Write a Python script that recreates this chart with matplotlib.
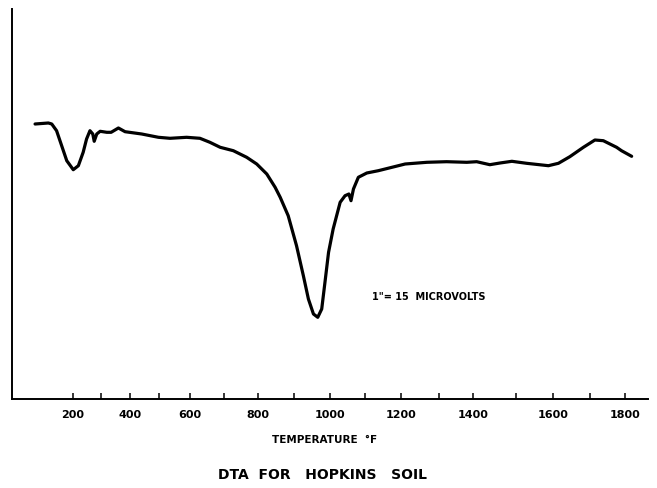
import numpy as np
import matplotlib
matplotlib.use("Agg")
import matplotlib.pyplot as plt
from matplotlib.ticker import FixedLocator, NullFormatter

# DTA trace, temperature (deg F) vs pen deflection (arbitrary chart units)
temp_f = [67, 114, 126, 143, 161, 179, 202, 220, 237, 249, 261, 271, 276, 285,
          297, 320, 335, 360, 383, 440, 497, 535, 589, 629, 658, 688, 727, 767,
          797, 825, 848, 862, 884, 907, 926, 940, 954, 966, 977, 986, 996, 1009,
          1029, 1043, 1054, 1060, 1067, 1081, 1105, 1137, 1211, 1268, 1322, 1381,
          1408, 1439, 1463, 1491, 1529, 1587, 1614, 1645, 1682, 1714, 1738, 1776,
          1790, 1819]
deflection = [275, 276, 275, 268.3, 253.3, 238.3, 229.3, 233.3, 246.7, 260, 268.3,
              265, 257.7, 265, 267.7, 266.7, 266.7, 271, 267.3, 265, 261.7, 260.7,
              261.7, 260.7, 256.7, 251.7, 248.3, 241.7, 235, 225, 211.7, 201.7,
              183.3, 153.3, 123.3, 100, 85, 81.7, 90, 116.7, 146.7, 170, 196.7,
              203.3, 205, 198.3, 210, 221.7, 226, 228.3, 235, 236.7, 237.3, 236.7,
              237.3, 234.3, 236, 237.7, 235.7, 233.3, 235.7, 242.3, 251.7, 259,
              258.3, 251.7, 248.3, 242.7]

tick_temps = [200, 300, 400, 500, 600, 700, 800, 900, 1000, 1100, 1200, 1300,
              1400, 1500, 1600, 1700, 1800]
label_temps = [200, 400, 600, 800, 1000, 1200, 1400, 1600, 1800]

# the temperature marks on the original chart are not evenly spaced,
# so map temperature to chart distance through the marked ticks
chart_pos = np.array([72.7, 101, 130, 159.3, 190, 224.3, 257.7, 294, 330, 365,
                      401, 439, 473.3, 515.7, 553.3, 590, 625])
tt = np.array(tick_temps, float)
slope_lo = (chart_pos[1] - chart_pos[0]) / (tt[1] - tt[0])
slope_hi = (chart_pos[-1] - chart_pos[-2]) / (tt[-1] - tt[-2])


def fwd(t):
    t = np.asarray(t, float)
    p = np.interp(t, tt, chart_pos)
    p = np.where(t < tt[0], chart_pos[0] + (t - tt[0]) * slope_lo, p)
    p = np.where(t > tt[-1], chart_pos[-1] + (t - tt[-1]) * slope_hi, p)
    return p


def inv(p):
    p = np.asarray(p, float)
    t = np.interp(p, chart_pos, tt)
    t = np.where(p < chart_pos[0], tt[0] + (p - chart_pos[0]) / slope_lo, t)
    t = np.where(p > chart_pos[-1], tt[-1] + (p - chart_pos[-1]) / slope_hi, t)
    return t


fig = plt.figure(figsize=(6.57, 4.89), dpi=100)
ax = fig.add_axes([12 / 657, 89 / 489, 636 / 657, 390 / 489])
ax.set_xscale("function", functions=(fwd, inv))
ax.set_xlim(inv(12.0), inv(648.0))
ax.set_ylim(0, 390)

ax.plot(temp_f, deflection, color="black", lw=2.3, solid_joinstyle="round",
        solid_capstyle="round")

for s in ["top", "right"]:
    ax.spines[s].set_visible(False)
ax.spines["left"].set_linewidth(1.4)
ax.spines["bottom"].set_linewidth(1.4)
ax.set_yticks([])

ax.xaxis.set_major_locator(FixedLocator(label_temps))
ax.xaxis.set_minor_locator(FixedLocator([t for t in tick_temps if t not in label_temps]))
ax.xaxis.set_minor_formatter(NullFormatter())
ax.set_xticklabels([str(t) for t in label_temps], fontweight="bold")
ax.tick_params(axis="x", which="both", direction="in", length=4, width=1.1,
               pad=7, labelsize=8)

ax.text(0.566, 0.264, '1"= 15  MICROVOLTS', transform=ax.transAxes,
        fontsize=7, fontweight="bold", va="center", ha="left")

fig.text(325 / 657, 1 - 440 / 489, "TEMPERATURE  \u00b0F", ha="center",
         va="center", fontsize=7.5, fontweight="bold")
fig.text(322 / 657, 1 - 475 / 489, "DTA  FOR   HOPKINS   SOIL", ha="center",
         va="center", fontsize=10, fontweight="bold")

fig.savefig("out.png", dpi=100)
